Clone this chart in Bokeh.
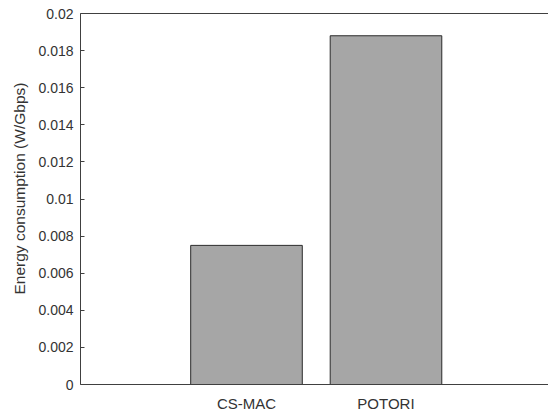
from bokeh.plotting import figure
from bokeh.models import FixedTicker, LinearAxis, ColumnDataSource, Title
from bokeh.embed import file_html
from bokeh.resources import INLINE

categories = ["CS-MAC", "POTORI"]
positions = [1, 2]
energy = [0.0075, 0.0188]
y_ticks = [0, 0.002, 0.004, 0.006, 0.008, 0.01, 0.012, 0.014, 0.016, 0.018, 0.02]
y_tick_labels = ["0", "0.002", "0.004", "0.006", "0.008", "0.01", "0.012",
                 "0.014", "0.016", "0.018", "0.02"]
y_title = "Energy consumption (W/Gbps)"

FONT = "Liberation Sans"
AX = "#404040"
TXT = "#333333"

p = figure(width=548, height=414, x_range=(-0.19, 3.165), y_range=(0, 0.02),
           output_backend="svg", toolbar_location=None,
           min_border_left=80, min_border_right=0, min_border_top=13,
           min_border_bottom=29)
p.outline_line_color = None
p.xgrid.visible = False
p.ygrid.visible = False
p.background_fill_color = "white"
p.border_fill_color = "white"

src = ColumnDataSource(dict(x=positions, top=energy, name=categories))
p.vbar(x="x", top="top", bottom=0, width=0.8, source=src,
       fill_color="#a6a6a6", line_color="#2b2b2b", line_width=1)

# left axis
ya = p.yaxis[0]
ya.ticker = FixedTicker(ticks=y_ticks)
ya.major_label_overrides = {t: l for t, l in zip(y_ticks, y_tick_labels)}
ya.minor_tick_line_color = None
ya.major_tick_in = 4
ya.major_tick_out = 0
ya.major_label_standoff = 7
ya.axis_line_color = AX
ya.major_tick_line_color = AX
ya.major_label_text_font = FONT
ya.major_label_text_font_size = "14px"
ya.major_label_text_color = TXT

# bottom axis with category labels
xa = p.xaxis[0]
xa.ticker = FixedTicker(ticks=positions)
xa.major_label_overrides = {pos: name for pos, name in zip(positions, categories)}
xa.major_tick_line_color = None
xa.minor_tick_line_color = None
xa.major_label_text_font = FONT
xa.major_label_text_font_size = "15px"
xa.major_label_text_color = TXT
xa.major_label_standoff = 4
xa.axis_line_color = AX

# top border line
top = LinearAxis(major_tick_line_color=None, minor_tick_line_color=None,
                 major_label_text_font_size="0px", major_label_text_alpha=0,
                 major_label_standoff=0, axis_line_color=AX)
p.add_layout(top, "above")

# y title
p.add_layout(Title(text=y_title, align="left", offset=90, text_font=FONT,
                   text_font_size="15.5px", text_font_style="normal",
                   text_color=TXT, standoff=15), "left")

open("out.html", "w").write(file_html(p, INLINE))
